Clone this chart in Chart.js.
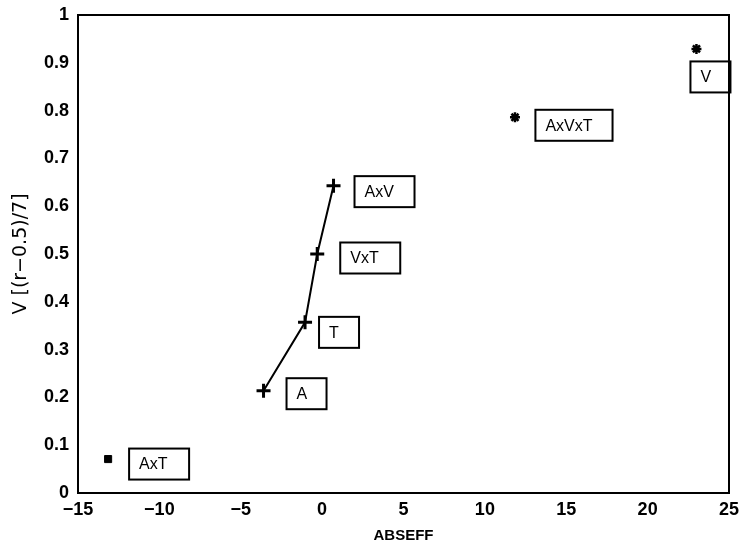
<!DOCTYPE html>
<html>
<head>
<meta charset="utf-8">
<script src="https://cdn.jsdelivr.net/npm/chart.js@4.4.0/dist/chart.umd.min.js"></script>
<style>
  html, body { margin: 0; padding: 0; background: #fff; }
  #wrap { width: 741px; height: 547px; }
</style>
</head>
<body>
<div id="wrap"><canvas id="c" width="741" height="547"></canvas></div>
<script>
// connected effects (+ markers)
const lineNames = ['A', 'T', 'VxT', 'AxV'];
const lineX = [-3.6, -1.05, -0.3, 0.7];
const lineY = [0.214, 0.357, 0.5, 0.643];

// single effects (star markers)
const starNames = ['AxVxT', 'V'];
const starX = [11.85, 23.0];
const starY = [0.786, 0.929];

// square marker
const squareNames = ['AxT'];
const squareX = [-13.15];
const squareY = [0.071];

const xTicks = [-15, -10, -5, 0, 5, 10, 15, 20, 25];
const yTicks = [0, 0.1, 0.2, 0.3, 0.4, 0.5, 0.6, 0.7, 0.8, 0.9, 1];

// label box offsets from the point (px): dx, dy of box centre
const labelOffsets = {
  'A': [43, 3], 'T': [34, 10], 'VxT': [53, 4], 'AxV': [51, 6],
  'AxVxT': [59, 8], 'V': [14, 28], 'AxT': [51, 5]
};

const FONT = '"Liberation Sans", Arial, sans-serif';

function pts(xs, ys) {
  return xs.map((x, i) => ({ x: x, y: ys[i] }));
}

const labelBoxes = {
  id: 'labelBoxes',
  afterDatasetsDraw(chart) {
    const ctx = chart.ctx;
    const xs = chart.scales.x, ys = chart.scales.y;
    ctx.save();
    ctx.font = '16px ' + FONT;
    ctx.textBaseline = 'middle';
    ctx.textAlign = 'left';
    ctx.lineWidth = 2;
    ctx.strokeStyle = '#000';
    ctx.fillStyle = '#000';
    chart.data.datasets.forEach(ds => {
      ds.names.forEach((name, i) => {
        const px = xs.getPixelForValue(ds.data[i].x);
        const py = ys.getPixelForValue(ds.data[i].y);
        const off = labelOffsets[name];
        const cx = px + off[0], cy = py + off[1];
        const tw = ctx.measureText(name).width;
        const w = name.length === 1 ? 40 : Math.max(60, tw + 30);
        const h = 31;
        ctx.fillStyle = '#fff';
        ctx.fillRect(cx - w / 2, cy - h / 2, w, h);
        ctx.strokeRect(cx - w / 2, cy - h / 2, w, h);
        ctx.fillStyle = '#000';
        ctx.fillText(name, cx - w / 2 + 10, cy + 1);
      });
    });
    ctx.restore();
  }
};

const frame = {
  id: 'frame',
  afterDraw(chart) {
    const a = chart.chartArea, ctx = chart.ctx;
    ctx.save();
    ctx.strokeStyle = '#000';
    ctx.lineWidth = 2;
    ctx.strokeRect(a.left, a.top, a.right - a.left, a.bottom - a.top);
    ctx.restore();
  }
};

new Chart(document.getElementById('c'), {
  type: 'scatter',
  data: {
    datasets: [
      {
        names: lineNames,
        data: pts(lineX, lineY),
        showLine: true,
        borderColor: '#000',
        borderWidth: 2,
        pointStyle: 'cross',
        pointRadius: 7,
        pointBorderWidth: 3,
        pointBorderColor: '#000'
      },
      {
        names: starNames,
        data: pts(starX, starY),
        pointStyle: 'star',
        pointRadius: 5,
        pointBorderWidth: 2.5,
        pointBorderColor: '#000'
      },
      {
        names: squareNames,
        data: pts(squareX, squareY),
        pointStyle: 'rect',
        pointRadius: 5,
        pointBorderWidth: 1,
        pointBorderColor: '#000',
        pointBackgroundColor: '#000'
      }
    ]
  },
  options: {
    responsive: false,
    animation: false,
    layout: { padding: { left: 0, right: 12, top: 15, bottom: 0 } },
    plugins: { legend: { display: false }, tooltip: { enabled: false } },
    scales: {
      x: {
        type: 'linear',
        min: -15, max: 25,
        afterBuildTicks(s) { s.ticks = xTicks.map(v => ({ value: v })); },
        afterFit(s) { s.height = 54; },
        grid: { display: false, drawTicks: true, tickLength: 6, color: '#000' },
        border: { display: true, color: '#000', width: 2 },
        ticks: {
          color: '#000', padding: 0, maxRotation: 0,
          font: { family: FONT, size: 18, weight: 'bold' },
          callback: v => String(v).replace('-', '\u2212')
        },
        title: {
          display: true, text: 'ABSEFF', color: '#000', padding: { top: 0, bottom: 2 },
          font: { family: FONT, size: 15, weight: 'bold' }
        }
      },
      y: {
        type: 'linear',
        min: 0, max: 1,
        afterBuildTicks(s) { s.ticks = yTicks.map(v => ({ value: v })); },
        afterFit(s) { s.width = 78; },
        grid: { display: false, drawTicks: true, tickLength: 6, color: '#000' },
        border: { display: true, color: '#000', width: 2 },
        ticks: {
          color: '#000', padding: 3,
          font: { family: FONT, size: 18, weight: 'bold' },
          callback: v => String(v)
        },
        title: {
          display: true, text: 'V [(r\u22120.5)/7]', color: '#000', padding: { top: 10, bottom: 0 },
          font: { family: '"DejaVu Sans", sans-serif', size: 19 }
        }
      }
    }
  },
  plugins: [labelBoxes, frame]
});
</script>
</body>
</html>
